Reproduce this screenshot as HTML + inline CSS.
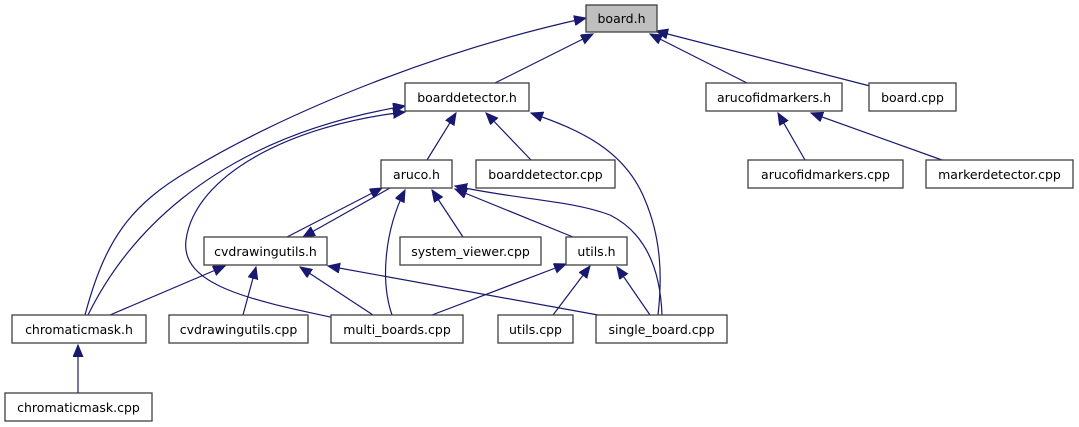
<!DOCTYPE html>
<html><head><meta charset="utf-8"><style>
html,body{margin:0;padding:0;background:#fff;}
svg{display:block;}
text{font-family:"DejaVu Sans","Liberation Sans",sans-serif;font-size:12.5px;fill:#000;}
rect{fill:#fff;stroke:#404040;stroke-width:1.3;}
path{fill:none;stroke:#191970;stroke-width:1.2;}
</style></head><body>
<svg width="1079" height="427" viewBox="0 0 1079 427" xmlns="http://www.w3.org/2000/svg">
<defs>
<marker id="a" markerUnits="userSpaceOnUse" markerWidth="14" markerHeight="12" refX="12" refY="5" orient="auto">
<path d="M0,0 L12,5 L0,10 Z" style="fill:#191970;stroke:#191970;stroke-width:1"/>
</marker>
</defs>
<g marker-end="url(#a)">
<path d="M495,83 L593,34"/>
<path d="M747,83 L650,34"/>
<path d="M870,86 L656,31"/>
<path d="M85,315 C105,240 130,205 190,170 C290,110 440,50 586,18"/>
<path d="M427,160 L456,113"/>
<path d="M531,160 L486,113"/>
<path d="M658,315 C662,280 662,240 645,200 C625,150 580,130 531,113"/>
<path d="M88,315 C120,250 200,140 405,106"/>
<path d="M335,318 C250,300 180,285 186,240 C195,175 290,125 405,112"/>
<path d="M287,237 L382,188"/>
<path d="M390,188 L303,237"/>
<path d="M392,315 C380,280 385,230 405,190"/>
<path d="M463,237 L432,190"/>
<path d="M573,237 L455,189"/>
<path d="M662,315 C660,260 640,230 610,215 C570,200 520,200 455,186"/>
<path d="M110,315 L225,266"/>
<path d="M243,315 L256,267"/>
<path d="M373,315 L300,267"/>
<path d="M598,315 L328,266"/>
<path d="M432,315 L566,264"/>
<path d="M553,315 L590,266"/>
<path d="M650,315 L617,267"/>
<path d="M805,160 L778,113"/>
<path d="M942,160 L811,113"/>
<path d="M78,393 L78,345"/>
</g>
<rect x="586" y="5" width="71" height="27" style="fill:#bfbfbf"/><text x="621.5" y="23" text-anchor="middle">board.h</text>
<rect x="405" y="83" width="124" height="28"/><text x="467" y="102" text-anchor="middle">boarddetector.h</text>
<rect x="706" y="83" width="136" height="28"/><text x="774" y="102" text-anchor="middle">arucofidmarkers.h</text>
<rect x="869" y="83" width="87" height="28"/><text x="912.5" y="102" text-anchor="middle">board.cpp</text>
<rect x="381" y="160" width="71" height="28"/><text x="416.5" y="179" text-anchor="middle">aruco.h</text>
<rect x="476" y="160" width="139" height="28"/><text x="545.5" y="179" text-anchor="middle">boarddetector.cpp</text>
<rect x="748" y="160" width="155" height="28"/><text x="825.5" y="179" text-anchor="middle">arucofidmarkers.cpp</text>
<rect x="926" y="160" width="147" height="28"/><text x="999.5" y="179" text-anchor="middle">markerdetector.cpp</text>
<rect x="204" y="237" width="123" height="28"/><text x="265.5" y="256" text-anchor="middle">cvdrawingutils.h</text>
<rect x="400" y="237" width="141" height="28"/><text x="470.5" y="256" text-anchor="middle">system_viewer.cpp</text>
<rect x="566" y="237" width="61" height="28"/><text x="596.5" y="256" text-anchor="middle">utils.h</text>
<rect x="12" y="315" width="134" height="28"/><text x="79" y="334" text-anchor="middle">chromaticmask.h</text>
<rect x="169" y="315" width="139" height="28"/><text x="238.5" y="334" text-anchor="middle">cvdrawingutils.cpp</text>
<rect x="331" y="315" width="132" height="28"/><text x="397" y="334" text-anchor="middle">multi_boards.cpp</text>
<rect x="498" y="315" width="75" height="28"/><text x="535.5" y="334" text-anchor="middle">utils.cpp</text>
<rect x="596" y="315" width="131" height="28"/><text x="661.5" y="334" text-anchor="middle">single_board.cpp</text>
<rect x="5" y="393" width="147" height="28"/><text x="78.5" y="412" text-anchor="middle">chromaticmask.cpp</text>
</svg>
</body></html>
